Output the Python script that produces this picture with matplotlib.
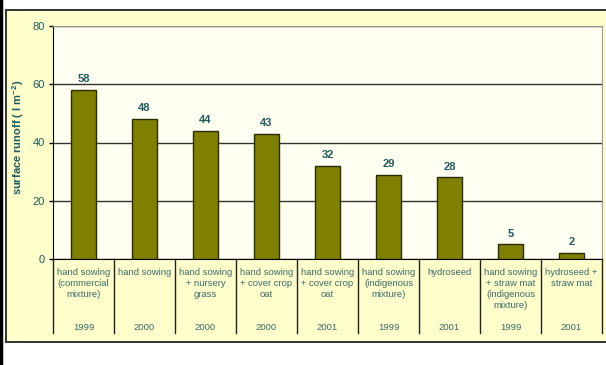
import matplotlib
matplotlib.use("Agg")
import matplotlib.pyplot as plt
from matplotlib.patches import Rectangle
from matplotlib.lines import Line2D
import numpy as np

plt.rcParams["font.family"] = ["Liberation Sans", "DejaVu Sans"]
plt.rcParams["mathtext.fontset"] = "custom"
plt.rcParams["mathtext.rm"] = "Liberation Sans"
plt.rcParams["mathtext.bf"] = "Liberation Sans:bold"

# data
treatments = ["hand sowing\n(commercial\nmixture)", "hand sowing", "hand sowing\n+ nursery\ngrass",
              "hand sowing\n+ cover crop\noat", "hand sowing\n+ cover crop\noat", "hand sowing\n(indigenous\nmixture)",
              "hydroseed", "hand sowing\n+ straw mat\n(indigenous\nmixture)", "hydroseed +\nstraw mat"]
years = ["1999", "2000", "2000", "2000", "2001", "1999", "2001", "1999", "2001"]
runoff = [58, 48, 44, 43, 32, 29, 28, 5, 2]

W, H = 606, 365
txt = "#1e5a5a"
cat_txt = "#3a6a6a"
fig = plt.figure(figsize=(W/100, H/100), dpi=100)
fig.patch.set_facecolor("white")

def fx(px): return px / W
def fy(py): return 1 - py / H

# outer panel
fig.patches.append(Rectangle((fx(5.5), fy(342)), fx(620), (342-10)/H, transform=fig.transFigure,
                             facecolor="#ffffcc", edgecolor="#333333", lw=1.4, zorder=-5))
fig.lines.append(Line2D([fx(1), fx(1)], [0, 1], transform=fig.transFigure, color="black", lw=2.5, zorder=-4))

left, right, top, bottom = 53, 602, 26, 259
ax = fig.add_axes([fx(left), fy(bottom), (right-left)/W, (bottom-top)/H])
ax.set_zorder(2)
ax.set_facecolor("#fffff2")
x = np.arange(len(runoff))
bars = ax.bar(x, runoff, width=0.4, color="#808000", edgecolor="#2b2b00", lw=1, zorder=3)
for b, v in zip(bars, runoff):
    ax.text(b.get_x() + b.get_width()/2, v + 2, str(v), ha="center", va="bottom",
            fontsize=8, fontweight="bold", color=txt)
ax.set_xlim(-0.5, len(runoff) - 0.5)
ax.set_ylim(0, 80)
ax.set_yticks([0, 20, 40, 60, 80])
ax.tick_params(axis="y", labelsize=8, labelcolor=txt, length=3, width=1, color="black", pad=3)
ax.set_xticks([])
ax.yaxis.grid(True, color="#333333", lw=1, zorder=1)
for s in ["top", "right"]:
    ax.spines[s].set_color("#999999")
ax.spines["left"].set_color("black")
ax.spines["bottom"].set_color("black")
ax.set_ylabel("surface runoff ( l m$^{\\mathbf{-2}}$)", fontsize=8, fontweight="bold", color=txt)
ax.yaxis.set_label_coords(-(53 - 26) / (right - left), 0.52)

# category table under the axis
for i in range(len(runoff) + 1):
    ax.plot([i - 0.5, i - 0.5], [0, -25.4], color="#222222", lw=1, clip_on=False, zorder=4)
for i, (t, yr) in enumerate(zip(treatments, years)):
    ax.text(i, -3.2, t, ha="center", va="top", fontsize=6.8, color=cat_txt, linespacing=1.25)
    ax.text(i, -23.5, yr, ha="center", va="center", fontsize=6.8, color=cat_txt)

fig.savefig("out.png", dpi=100, facecolor=fig.get_facecolor())
